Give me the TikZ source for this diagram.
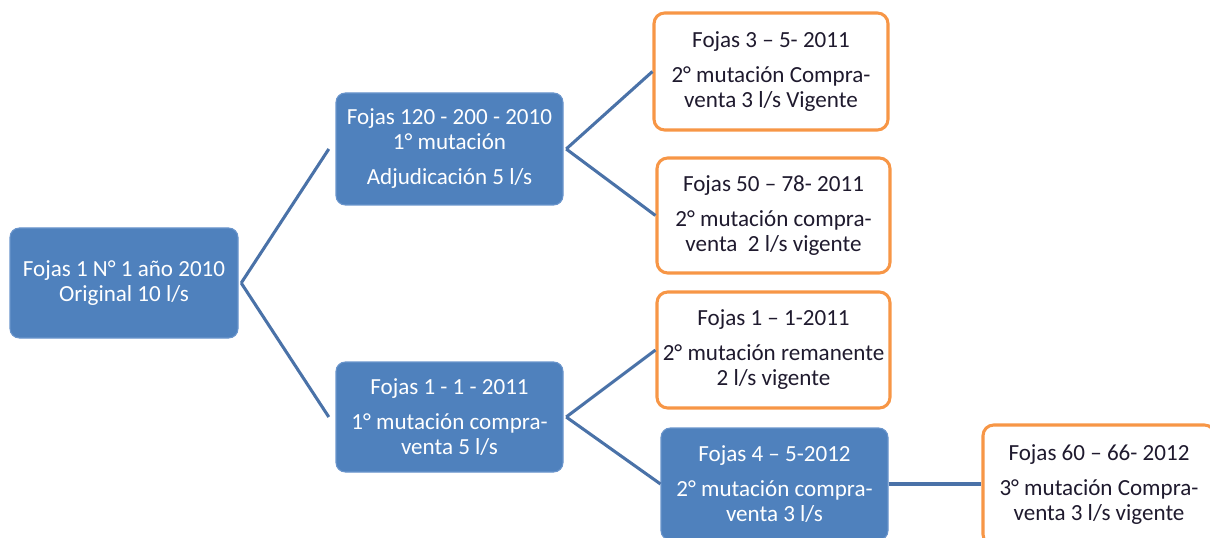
\documentclass[tikz,border=0pt]{standalone}
\usepackage{fontspec}
\setmainfont{Carlito}
\definecolor{boxblue}{HTML}{4F81BD}
\definecolor{boxedge}{HTML}{6A95CC}
\definecolor{lineblue}{HTML}{4A72A8}
\definecolor{orng}{HTML}{F79646}
\definecolor{txtdark}{HTML}{1F1A2E}
\tikzset{
  bluebox/.style={draw=boxedge, line width=0.8pt, fill=boxblue, rounded corners=7pt,
    text=white, align=center, inner sep=0pt,
    font=\fontsize{17.3}{18.75}\selectfont},
  orangebox/.style={draw=orng, line width=2.3pt, fill=white, rounded corners=8pt,
    text=txtdark, align=center, inner sep=0pt,
    font=\fontsize{17.3}{18.75}\selectfont},
  link/.style={draw=lineblue, line width=2.3pt}
}
\begin{document}
\begin{tikzpicture}[x=0.75pt,y=-0.75pt]
\useasboundingbox (0,0) rectangle (1210,538);
\clip (0,0) rectangle (1210,538);
\node[bluebox, minimum width=171pt, minimum height=82.5pt] (root) at (124,283)
  {Fojas 1 N° 1 año 2010\\Original 10 l/s};
\node[bluebox, minimum width=170.25pt, minimum height=84pt] (mt) at (449.5,149)
  {Fojas 120 - 200 - 2010\\1° mutación\\[7.5pt]Adjudicación 5 l/s};
\node[bluebox, minimum width=170.25pt, minimum height=82.5pt] (mb) at (449.5,417)
  {Fojas 1 - 1 - 2011\\[7.5pt]1° mutación compra-\\venta 5 l/s};
\node[orangebox, minimum width=175.5pt, minimum height=87.75pt] (o1) at (771,71.5)
  {Fojas 3 – 5- 2011\\[7.5pt]2° mutación Compra-\\venta 3 l/s Vigente};
\node[orangebox, minimum width=174.75pt, minimum height=86.25pt] (o2) at (773.5,215.5)
  {Fojas 50 – 78- 2011\\[7.5pt]2° mutación compra-\\venta\ \ 2 l/s vigente};
\node[orangebox, minimum width=174.75pt, minimum height=87pt] (o3) at (773.5,350)
  {Fojas 1 – 1-2011\\[7.5pt]2° mutación remanente\\2 l/s vigente};
\node[bluebox, minimum width=170.25pt, minimum height=84pt] (b4) at (774.5,484)
  {Fojas 4 – 5-2012\\[7.5pt]2° mutación compra-\\venta 3 l/s};
\node[orangebox, minimum width=174pt, minimum height=90pt] (o5) at (1099,485)
  {Fojas 60 – 66- 2012\\[7.5pt]3° mutación Compra-\\venta 3 l/s vigente};
\draw[link] ([xshift=2pt]root.east) -- ([xshift=-5pt]mt.west);
\draw[link] ([xshift=2pt]root.east) -- ([xshift=-5pt]mb.west);
\draw[link] ([xshift=2pt]mt.east) -- (o1.west);
\draw[link] ([xshift=2pt]mt.east) -- (o2.west);
\draw[link] ([xshift=2pt]mb.east) -- (o3.west);
\draw[link] ([xshift=2pt]mb.east) -- (b4.west);
\draw[link] (b4.east) -- (b4.east -| o5.west);
\end{tikzpicture}
\end{document}
